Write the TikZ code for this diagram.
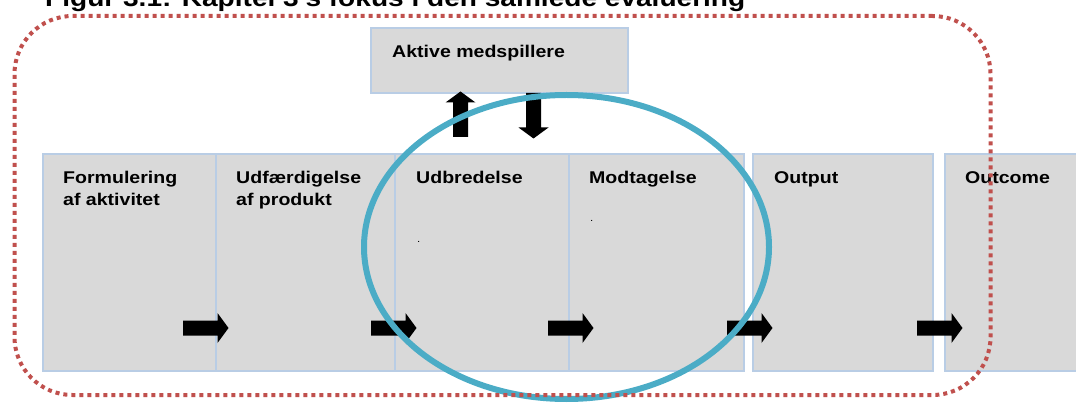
\documentclass[tikz,border=0pt]{standalone}
\usepackage{fontspec}
\usetikzlibrary{shapes.geometric}
\newfontfamily\lab[FakeStretch=1.15]{Liberation Sans}
\definecolor{boxfill}{HTML}{D9D9D9}
\definecolor{boxline}{HTML}{B9CDE5}
\definecolor{framered}{HTML}{C0504D}
\definecolor{ringblue}{HTML}{4BACC6}
\tikzset{
  stage/.style={draw=boxline, fill=boxfill, line width=2pt, inner sep=0pt, anchor=north west},
  lbl/.style={inner sep=0pt, anchor=north west, align=left, font=\lab\bfseries\fontsize{17}{22}\selectfont},
  tinydot/.style={inner sep=0pt, anchor=base west, font=\lab\fontsize{10}{10}\selectfont},
  blockarrow/.pic={\fill[black] (0,-7.5) -- (34.5,-7.5) -- (34.5,-15) -- (45.5,0) -- (34.5,15) -- (34.5,7.5) -- (0,7.5) -- cycle;},
  ring/.style={ellipse, draw=ringblue, line width=6pt, inner sep=0pt},
  dottedframe/.style={draw=framered, line width=4pt, dash pattern=on 4pt off 4pt, rounded corners=58pt, inner sep=0pt}
}
\begin{document}
\begin{tikzpicture}[x=1pt,y=-1pt]
\useasboundingbox (0,0) rectangle (1076,403);
% title (partly cut off at top, as in the reference)
\node[inner sep=0pt, anchor=base west, font=\lab\bfseries\fontsize{24.4}{28}\selectfont] (title) at (45,7) {Figur 3.1: Kapitel 3's fokus i den samlede evaluering};
% top box
\node[stage, minimum width=257pt, minimum height=65pt] (aktive) at (370,27) {};
\node[lbl] (aktivelbl) at (392,44.6) {Aktive medspillere};
% stage boxes
\node[stage, minimum width=173pt, minimum height=217pt] (b1) at (42,153) {};
\node[stage, minimum width=179pt, minimum height=217pt] (b2) at (215,153) {};
\node[stage, minimum width=174pt, minimum height=217pt] (b3) at (394,153) {};
\node[stage, minimum width=175pt, minimum height=217pt] (b4) at (568,153) {};
\node[stage, minimum width=180pt, minimum height=217pt] (b5) at (752,153) {};
\node[stage, minimum width=160pt, minimum height=217pt] (b6) at (944,153) {};
% labels
\node[lbl] (t1) at (63,170.6) {Formulering\\af aktivitet};
\node[lbl] (t2) at (236,170.6) {Udfærdigelse\\af produkt};
\node[lbl] (t3) at (416,170.6) {Udbredelse};
\node[lbl] (t4) at (589,170.6) {Modtagelse};
\node[lbl] (t5) at (774,171.6) {Output};
\node[lbl] (t6) at (965,171.6) {Outcome};
\node[tinydot] (d3) at (417,243) {.};
\node[tinydot] (d4) at (590,222) {.};
% block arrows
\pic at (183,328) {blockarrow};
\pic at (371,328) {blockarrow};
\pic at (548,328) {blockarrow};
\pic at (727,328) {blockarrow};
\pic at (917,328) {blockarrow};
\pic[rotate=90] at (460.5,137) {blockarrow};
\pic[rotate=-90] at (533.5,93) {blockarrow};
% focus ellipse
\node[ring, minimum width=405pt, minimum height=304pt] (focus) at (566.5,247) {};
% dotted frame
\node[dottedframe, minimum width=976pt, minimum height=379pt, anchor=north west] (frame) at (12.5,14) {};
\end{tikzpicture}
\end{document}
